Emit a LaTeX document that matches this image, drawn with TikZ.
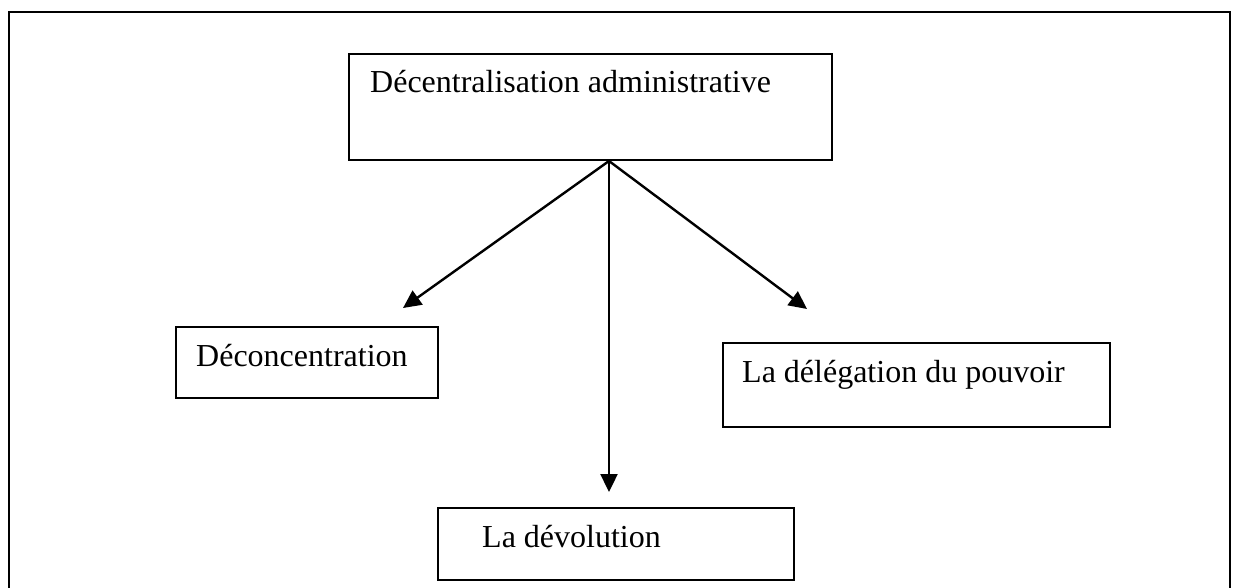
\documentclass[tikz,border=0pt]{standalone}
\usepackage{fontspec}
\setmainfont{Liberation Serif}
\usetikzlibrary{arrows.meta}
\tikzset{
    box/.style={draw, line width=2pt, anchor=north west, inner sep=0pt},
    lbl/.style={anchor=base west, inner sep=0pt, font=\fontsize{32}{38}\selectfont},
    arr/.style={line width=2.4pt, -{Triangle[length=18pt,width=17pt]}}
}
\begin{document}
\begin{tikzpicture}[x=1pt,y=-1pt]
        \useasboundingbox (0,0) rectangle (1233,588);
        % Outer frame.
        \draw[line width=2pt] (9,588) -- (9,12) -- (1230,12) -- (1230,588);
        % Boxes.
        \node[box, minimum width=483pt, minimum height=106pt] (decent) at (348,53) {};
        \node[box, minimum width=262pt, minimum height=71pt] (deconc) at (175,326) {};
        \node[box, minimum width=387pt, minimum height=84pt] (deleg) at (722,342) {};
        \node[box, minimum width=356pt, minimum height=72pt] (devol) at (437,507) {};
        \node[lbl] (decenttxt) at ([xshift=22pt,yshift=-40pt]decent.north west) {Décentralisation administrative};
        \node[lbl] (deconctxt) at ([xshift=21pt,yshift=-40pt]deconc.north west) {Déconcentration};
        \node[lbl] (delegtxt) at ([xshift=20pt,yshift=-40pt]deleg.north west) {La délégation du pouvoir};
        \node[lbl] (devoltxt) at ([xshift=45pt,yshift=-40pt]devol.north west) {La dévolution};
        % Arrows.
        \coordinate (src) at ([xshift=261pt]decent.south west);
        \coordinate (tipl) at (403,308);
        \coordinate (tipm) at (src |- 0,492);
        \coordinate (tipr) at (807,309);
        \draw[arr] (src) -- (tipl);
        \draw[arr] (src) -- (tipm);
        \draw[arr] (src) -- (tipr);
    \end{tikzpicture}
\end{document}
